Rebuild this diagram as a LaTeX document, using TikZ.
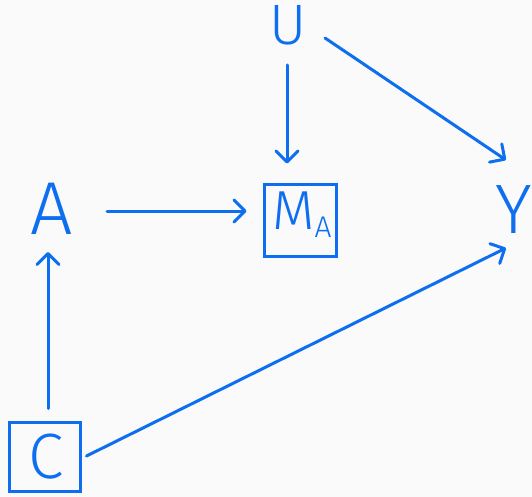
\documentclass[tikz,border=0pt]{standalone}
\usepackage{fontspec}
\setmainfont{Fira Sans}[UprightFont={* Light}]
\usetikzlibrary{arrows.meta}
\definecolor{ink}{RGB}{14,110,240}
\definecolor{bg}{RGB}{250,250,250}
\tikzset{
  x=1pt,y=-1pt,
  lbl/.style={inner sep=0pt,text=ink},
  boxed/.style={draw=ink,line width=3pt,inner sep=0pt,text=ink},
  arr/.style={draw=ink,line width=3pt,line cap=round,
    -{Straight Barb[round,length=11pt,width=22pt]}},
}
\begin{document}
\begin{tikzpicture}
\fill[bg] (0,0) rectangle (532,497);
\useasboundingbox (0,0) rectangle (532,497);
\node[lbl,font=\fontsize{57pt}{57pt}\selectfont] (U) at (288,25) {U};
\node[lbl,font=\fontsize{75pt}{75pt}\selectfont] (A) at (52,209) {A};
\node[lbl,font=\fontsize{70pt}{70pt}\selectfont] (Y) at (514,210) {Y};
\node[boxed,minimum width=72pt,minimum height=72pt,
  label={[lbl,yshift=5.5pt,xshift=1.5pt]center:{\fontsize{55pt}{55pt}\selectfont M\raisebox{-8pt}{\fontsize{30pt}{30pt}\selectfont A}}}]
  (MA) at (300.5,220.5) {};
\node[boxed,minimum width=71pt,minimum height=69pt,
  label={[lbl,xshift=1.5pt]center:{\fontsize{64pt}{64pt}\selectfont C}}] (C) at (45,457) {};
\draw[arr] ([shift={(-1,40)}]U.center) -- ([shift={(-13.5,-19.5)}]MA.north);
\draw[arr] ([shift={(37,13)}]U.center) -- ([shift={(-8,-50)}]Y.center);
\draw[arr] ([shift={(55,2)}]A.center) -- ([shift={(-16.5,-9.5)}]MA.west);
\draw[arr] ([shift={(3,-12.5)}]C.north) -- ([shift={(-4,43)}]A.center);
\draw[arr] ([shift={(4.5,-1)}]C.east) -- ([shift={(-8,38)}]Y.center);
\end{tikzpicture}
\end{document}
